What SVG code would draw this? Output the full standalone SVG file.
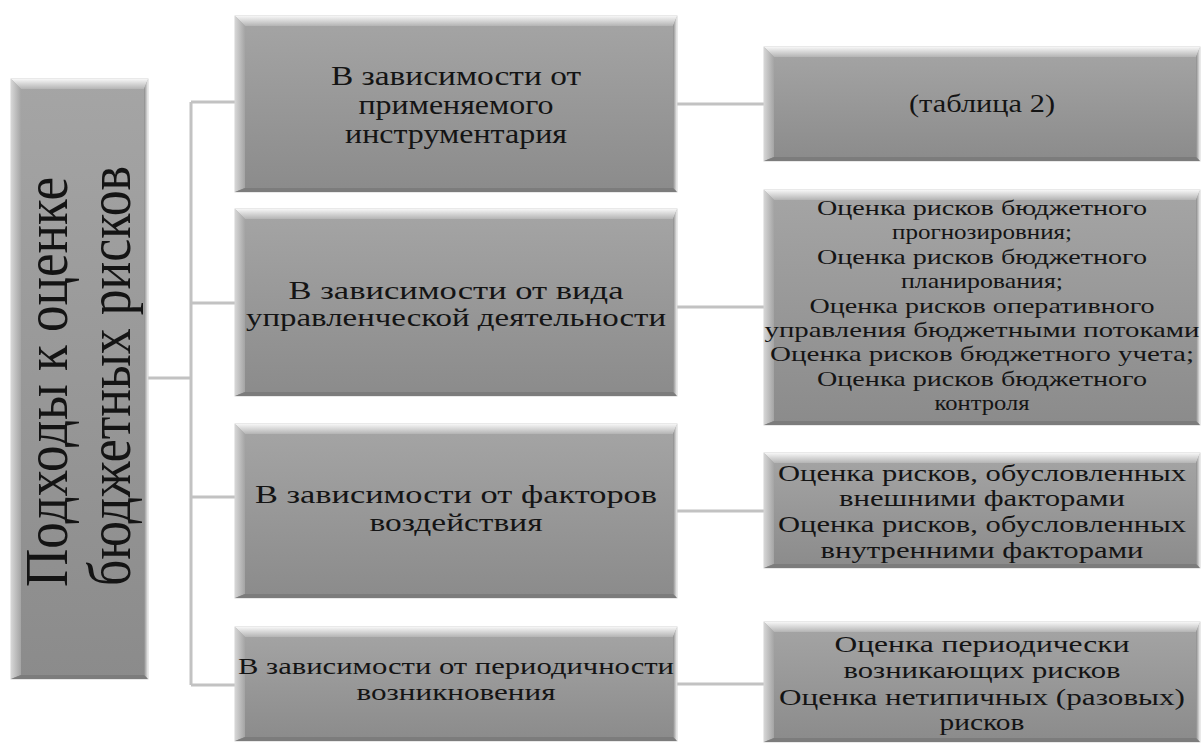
<svg xmlns="http://www.w3.org/2000/svg" width="1201" height="743" viewBox="0 0 1201 743">
<defs>
<linearGradient id="gFill" x1="0" y1="0" x2="0" y2="1">
<stop offset="0" stop-color="#a5a5a5"/><stop offset="1" stop-color="#8b8b8b"/>
</linearGradient>
<linearGradient id="gTop" x1="0" y1="0" x2="0" y2="1">
<stop offset="0" stop-color="#f6f6f6"/><stop offset="1" stop-color="#b4b4b4"/>
</linearGradient>
<linearGradient id="gLeft" x1="0" y1="0" x2="1" y2="0">
<stop offset="0" stop-color="#d6d6d6"/><stop offset="1" stop-color="#a4a4a4"/>
</linearGradient>
<linearGradient id="gRight" x1="0" y1="0" x2="1" y2="0">
<stop offset="0" stop-color="#8a8a8a"/><stop offset="1" stop-color="#ececec"/>
</linearGradient>
<style>
.box{fill:url(#gFill);stroke:#d4d4d4;stroke-width:1}
.bt{fill:url(#gTop)}
.bl{fill:url(#gLeft)}
.br{fill:url(#gRight)}
.bb{fill:#7c7c7c}
.t{font-family:'Liberation Serif','Times New Roman','DejaVu Serif',serif;fill:#141414;text-anchor:middle}
.conn{fill:none;stroke:#c2c2c2;stroke-width:3}
</style>
</defs>
<rect width="1201" height="743" fill="#ffffff"/>

<g id="connectors" class="conn">
<path d="M148,378 H191"/>
<path d="M191,102 V685"/>
<path d="M191,102 H235"/>
<path d="M191,303 H235"/>
<path d="M191,497 H235"/>
<path d="M191,685 H235"/>
<path d="M677,104 H764"/>
<path d="M677,307 H764"/>
<path d="M677,511 H764"/>
<path d="M677,684 H764"/>
</g>

<g id="root">
<rect class="box" x="11" y="79" width="137" height="600"/>
<polygon class="bt" points="11,79 148,79 144,89 21,89"/>
<polygon class="bl" points="11,79 21,89 21,675 11,679"/>
<polygon class="br" points="148,79 148,679 144,675 144,89"/>
<polygon class="bb" points="11,679 148,679 144,675 21,675"/>
<text class="t" font-family="Liberation Serif, serif" font-size="49" transform="translate(67,382) rotate(-90) scale(1,1.24)" textLength="410" lengthAdjust="spacingAndGlyphs">Подходы к оценке</text>
<text class="t" font-family="Liberation Serif, serif" font-size="49" transform="translate(130,376) rotate(-90) scale(1,1.24)" textLength="420" lengthAdjust="spacingAndGlyphs">бюджетных рисков</text>
</g>

<g id="m1" font-size="28">
<rect class="box" x="235" y="16" width="442" height="176"/>
<polygon class="bt" points="235,16 677,16 673,26 245,26"/>
<polygon class="bl" points="235,16 245,26 245,188 235,192"/>
<polygon class="br" points="677,16 677,192 673,188 673,26"/>
<polygon class="bb" points="235,192 677,192 673,188 245,188"/>
<text class="t" x="456" y="85" textLength="250" lengthAdjust="spacingAndGlyphs">В зависимости от</text>
<text class="t" x="456" y="114" textLength="195" lengthAdjust="spacingAndGlyphs">применяемого</text>
<text class="t" x="456" y="143" textLength="222" lengthAdjust="spacingAndGlyphs">инструментария</text>
</g>

<g id="m2" font-size="26">
<rect class="box" x="235" y="209" width="442" height="187"/>
<polygon class="bt" points="235,209 677,209 673,219 245,219"/>
<polygon class="bl" points="235,209 245,219 245,392 235,396"/>
<polygon class="br" points="677,209 677,396 673,392 673,219"/>
<polygon class="bb" points="235,396 677,396 673,392 245,392"/>
<text class="t" x="456" y="299" textLength="335" lengthAdjust="spacingAndGlyphs">В зависимости от вида</text>
<text class="t" x="456" y="326" textLength="420" lengthAdjust="spacingAndGlyphs">управленческой деятельности</text>
</g>

<g id="m3" font-size="26">
<rect class="box" x="235" y="424" width="442" height="174"/>
<polygon class="bt" points="235,424 677,424 673,434 245,434"/>
<polygon class="bl" points="235,424 245,434 245,594 235,598"/>
<polygon class="br" points="677,424 677,598 673,594 673,434"/>
<polygon class="bb" points="235,598 677,598 673,594 245,594"/>
<text class="t" x="456" y="503" textLength="402" lengthAdjust="spacingAndGlyphs">В зависимости от  факторов</text>
<text class="t" x="456" y="531" textLength="173" lengthAdjust="spacingAndGlyphs">воздействия</text>
</g>

<g id="m4" font-size="24">
<rect class="box" x="235" y="627" width="442" height="114"/>
<polygon class="bt" points="235,627 677,627 673,637 245,637"/>
<polygon class="bl" points="235,627 245,637 245,737 235,741"/>
<polygon class="br" points="677,627 677,741 673,737 673,637"/>
<polygon class="bb" points="235,741 677,741 673,737 245,737"/>
<text class="t" x="456" y="674" textLength="436" lengthAdjust="spacingAndGlyphs">В зависимости от периодичности</text>
<text class="t" x="456" y="700" textLength="199" lengthAdjust="spacingAndGlyphs">возникновения</text>
</g>

<g id="r1" font-size="25">
<rect class="box" x="764" y="47" width="436" height="114"/>
<polygon class="bt" points="764,47 1200,47 1196,57 774,57"/>
<polygon class="bl" points="764,47 774,57 774,157 764,161"/>
<polygon class="br" points="1200,47 1200,161 1196,157 1196,57"/>
<polygon class="bb" points="764,161 1200,161 1196,157 774,157"/>
<text class="t" x="982" y="112" textLength="146" lengthAdjust="spacingAndGlyphs">(таблица 2)</text>
</g>

<g id="r2" font-size="22">
<rect class="box" x="764" y="190" width="436" height="235"/>
<polygon class="bt" points="764,190 1200,190 1196,200 774,200"/>
<polygon class="bl" points="764,190 774,200 774,421 764,425"/>
<polygon class="br" points="1200,190 1200,425 1196,421 1196,200"/>
<polygon class="bb" points="764,425 1200,425 1196,421 774,421"/>
<text class="t" x="982" y="215" textLength="330" lengthAdjust="spacingAndGlyphs">Оценка рисков бюджетного</text>
<text class="t" x="982" y="239.4" textLength="180" lengthAdjust="spacingAndGlyphs">прогнозировния;</text>
<text class="t" x="982" y="263.8" textLength="330" lengthAdjust="spacingAndGlyphs">Оценка рисков бюджетного</text>
<text class="t" x="982" y="288.1" textLength="162" lengthAdjust="spacingAndGlyphs">планирования;</text>
<text class="t" x="982" y="312.5" textLength="345" lengthAdjust="spacingAndGlyphs">Оценка рисков оперативного</text>
<text class="t" x="982" y="336.9" textLength="435" lengthAdjust="spacingAndGlyphs">управления  бюджетными потоками</text>
<text class="t" x="982" y="361.3" textLength="424" lengthAdjust="spacingAndGlyphs">Оценка рисков бюджетного учета;</text>
<text class="t" x="982" y="385.6" textLength="330" lengthAdjust="spacingAndGlyphs">Оценка рисков бюджетного</text>
<text class="t" x="982" y="410" textLength="95" lengthAdjust="spacingAndGlyphs">контроля</text>
</g>

<g id="r3" font-size="24">
<rect class="box" x="764" y="453" width="436" height="115"/>
<polygon class="bt" points="764,453 1200,453 1196,463 774,463"/>
<polygon class="bl" points="764,453 774,463 774,564 764,568"/>
<polygon class="br" points="1200,453 1200,568 1196,564 1196,463"/>
<polygon class="bb" points="764,568 1200,568 1196,564 774,564"/>
<text class="t" x="982" y="481" textLength="408" lengthAdjust="spacingAndGlyphs">Оценка рисков, обусловленных</text>
<text class="t" x="982" y="506" textLength="286" lengthAdjust="spacingAndGlyphs">внешними факторами</text>
<text class="t" x="982" y="532" textLength="408" lengthAdjust="spacingAndGlyphs">Оценка рисков, обусловленных</text>
<text class="t" x="982" y="558" textLength="323" lengthAdjust="spacingAndGlyphs">внутренними факторами</text>
</g>

<g id="r4" font-size="24">
<rect class="box" x="764" y="622" width="436" height="120"/>
<polygon class="bt" points="764,622 1200,622 1196,632 774,632"/>
<polygon class="bl" points="764,622 774,632 774,738 764,742"/>
<polygon class="br" points="1200,622 1200,742 1196,738 1196,632"/>
<polygon class="bb" points="764,742 1200,742 1196,738 774,738"/>
<text class="t" x="982" y="652" textLength="295" lengthAdjust="spacingAndGlyphs">Оценка  периодически</text>
<text class="t" x="982" y="678" textLength="277" lengthAdjust="spacingAndGlyphs">возникающих рисков</text>
<text class="t" x="982" y="705" textLength="406" lengthAdjust="spacingAndGlyphs">Оценка  нетипичных (разовых)</text>
<text class="t" x="982" y="730" textLength="85" lengthAdjust="spacingAndGlyphs">рисков</text>
</g>
</svg>
